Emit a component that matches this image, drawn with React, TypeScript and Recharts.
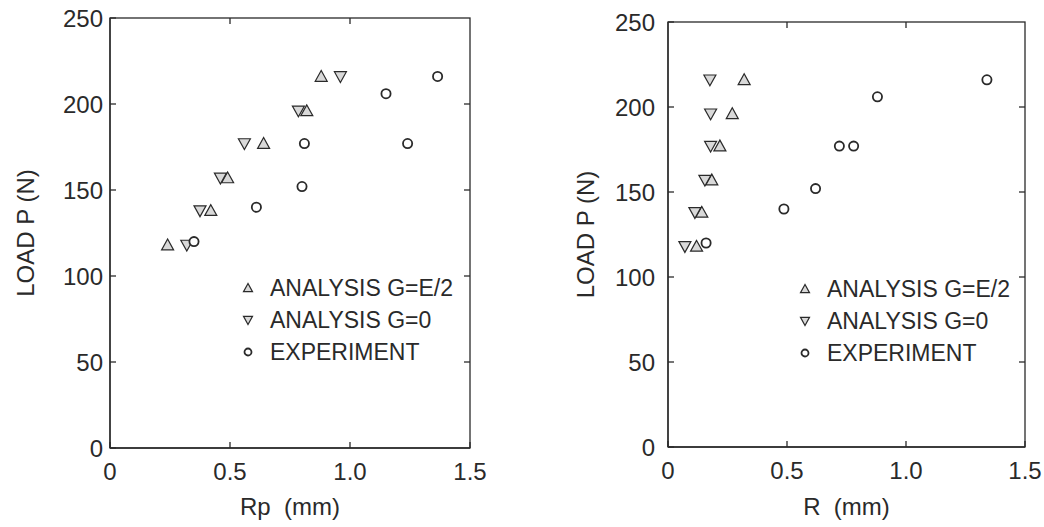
import React from "react";
import { Scatter, ScatterChart, XAxis, YAxis } from "recharts";

// left panel: load vs Rp
const loadAnalysis = [118, 138, 157, 177, 196, 216];
const rpHalfE = [0.24, 0.42, 0.49, 0.64, 0.82, 0.88];
const rpZeroG = [0.32, 0.375, 0.46, 0.56, 0.785, 0.96];
const rpExp = [0.35, 0.61, 0.8, 0.81, 1.15, 1.24, 1.365];
const loadExpRp = [120, 140, 152, 177, 206, 177, 216];

// right panel: load vs R
const loadAnalysisR = [118, 138, 157, 177, 196, 216];
const rHalfE = [0.12, 0.142, 0.184, 0.218, 0.27, 0.32];
const rZeroG = [0.071, 0.113, 0.155, 0.179, 0.179, 0.176];
const rExp = [0.16, 0.487, 0.62, 0.72, 0.78, 0.88, 1.34];
const loadExpR = [120, 140, 152, 177, 177, 206, 216];

const seriesNames = ["ANALYSIS G=E/2", "ANALYSIS G=0", "EXPERIMENT"];
const xDomain = [0, 1.5];
const yDomain = [0, 250];
const xTicks = [0, 0.5, 1.0, 1.5];
const xTickLabels = ["0", "0.5", "1.0", "1.5"];
const yTicks = [0, 50, 100, 150, 200, 250];

const INK = "#2a2a2a";
const FONT = "'Liberation Sans', Arial, sans-serif";
const TICK = 6;

const toPoints = (xs: number[], ys: number[]) => xs.map((x, i) => ({ x, y: ys[i] }));

function TriUp(props: any) {
  const { cx, cy } = props;
  const s = props.s ?? 6;
  return (
    <polygon
      points={`${cx},${cy - s} ${cx - s},${cy + s * 0.8} ${cx + s},${cy + s * 0.8}`}
      fill="#d9d9d9"
      stroke={INK}
      strokeWidth={1.2}
    />
  );
}

function TriDown(props: any) {
  const { cx, cy } = props;
  const s = props.s ?? 6;
  return (
    <polygon
      points={`${cx - s},${cy - s * 0.8} ${cx + s},${cy - s * 0.8} ${cx},${cy + s}`}
      fill="#d9d9d9"
      stroke={INK}
      strokeWidth={1.2}
    />
  );
}

function Ring(props: any) {
  const { cx, cy } = props;
  const r = props.r ?? 4.6;
  return <circle cx={cx} cy={cy} r={r} fill="#fff" stroke={INK} strokeWidth={1.8} />;
}

const legendShapes = [TriUp, TriDown, Ring];

function LegendBox({ left, top }: { left: number; top: number }) {
  return (
    <div style={{ position: "absolute", left, top, fontFamily: FONT, fontSize: 23, color: INK }}>
      {seriesNames.map((name, i) => {
        const Shape = legendShapes[i];
        return (
          <div key={name} style={{ display: "flex", alignItems: "center", height: 32, whiteSpace: "nowrap" }}>
            <svg width={24} height={16} style={{ marginRight: 8 }}>
              <Shape cx={10} cy={8} s={4.5} r={3.5} />
            </svg>
            <span>{name}</span>
          </div>
        );
      })}
    </div>
  );
}

// top/right edges of the box with inward ticks, laid over the plot area
function Frame({ x, y, w, h }: { x: number; y: number; w: number; h: number }) {
  const inner = (v: number, lo: number, hi: number) => v > lo && v < hi;
  return (
    <svg
      width={w + 2}
      height={h + 2}
      style={{ position: "absolute", left: x - 1, top: y - 1, pointerEvents: "none", overflow: "visible" }}
    >
      <g transform="translate(1,1)" stroke={INK} strokeWidth={1.3} fill="none">
        <rect x={0} y={0} width={w} height={h} />
        {xTicks
          .filter((t) => inner(t, xDomain[0], xDomain[1]))
          .map((t) => {
            const px = ((t - xDomain[0]) / (xDomain[1] - xDomain[0])) * w;
            return <line key={`t${t}`} x1={px} x2={px} y1={0} y2={TICK} />;
          })}
        {yTicks
          .filter((t) => inner(t, yDomain[0], yDomain[1]))
          .map((t) => {
            const py = h - ((t - yDomain[0]) / (yDomain[1] - yDomain[0])) * h;
            return <line key={`r${t}`} x1={w} x2={w - TICK} y1={py} y2={py} />;
          })}
      </g>
    </svg>
  );
}

type PanelProps = {
  left: number;
  width: number;
  plot: { x: number; y: number; w: number; h: number };
  yTickMargin: number;
  xTitle: string;
  legendPos: { left: number; top: number };
  halfE: { x: number; y: number }[];
  zeroG: { x: number; y: number }[];
  exp: { x: number; y: number }[];
};

function Panel(p: PanelProps) {
  const tickStyle = { fontSize: 24, fill: INK, fontFamily: FONT };
  const margin = { top: p.plot.y, right: p.width - p.plot.x - p.plot.w, bottom: 0, left: 0 };
  return (
    <div style={{ position: "absolute", left: p.left, top: 0, width: p.width, height: 527 }}>
      <ScatterChart width={p.width} height={527} margin={margin}>
        <XAxis
          type="number"
          dataKey="x"
          domain={xDomain}
          ticks={xTicks}
          tickFormatter={(v: number) => xTickLabels[xTicks.indexOf(v)] ?? String(v)}
          allowDataOverflow
          height={527 - p.plot.y - p.plot.h}
          tick={tickStyle}
          tickSize={-TICK}
          tickMargin={21}
          stroke={INK}
          strokeWidth={1.3}
          label={{
            value: p.xTitle,
            position: "insideBottom",
            offset: 12,
            style: { fontSize: 24, fill: INK, fontFamily: FONT },
          }}
        />
        <YAxis
          type="number"
          dataKey="y"
          domain={yDomain}
          ticks={yTicks}
          allowDataOverflow
          width={p.plot.x}
          tick={tickStyle}
          tickSize={-TICK}
          tickMargin={p.yTickMargin}
          stroke={INK}
          strokeWidth={1.3}
          label={{
            value: "LOAD P (N)",
            angle: -90,
            position: "insideLeft",
            offset: 25,
            style: { fontSize: 24, fill: INK, fontFamily: FONT, textAnchor: "middle" },
          }}
        />
        <Scatter name={seriesNames[0]} data={p.halfE} shape={TriUp} fill="#d9d9d9" isAnimationActive={false} />
        <Scatter name={seriesNames[1]} data={p.zeroG} shape={TriDown} fill="#d9d9d9" isAnimationActive={false} />
        <Scatter name={seriesNames[2]} data={p.exp} shape={Ring} fill="#fff" isAnimationActive={false} />
      </ScatterChart>
      <Frame {...p.plot} />
      <LegendBox left={p.legendPos.left} top={p.legendPos.top} />
    </div>
  );
}

export default function App() {
  return (
    <div style={{ position: "relative", width: 1044, height: 527, background: "#fff" }}>
      <style>{"body{margin:0;background:#fff}"}</style>
      <Panel
        left={0}
        width={540}
        plot={{ x: 110, y: 18, w: 360, h: 430 }}
        yTickMargin={13}
        xTitle={"Rp\u00a0\u00a0(mm)"}
        legendPos={{ left: 238, top: 272 }}
        halfE={toPoints(rpHalfE, loadAnalysis)}
        zeroG={toPoints(rpZeroG, loadAnalysis)}
        exp={toPoints(rpExp, loadExpRp)}
      />
      <Panel
        left={560}
        width={484}
        plot={{ x: 108, y: 22, w: 357, h: 425 }}
        yTickMargin={19}
        xTitle={"R\u00a0\u00a0(mm)"}
        legendPos={{ left: 235, top: 273 }}
        halfE={toPoints(rHalfE, loadAnalysisR)}
        zeroG={toPoints(rZeroG, loadAnalysisR)}
        exp={toPoints(rExp, loadExpR)}
      />
    </div>
  );
}
